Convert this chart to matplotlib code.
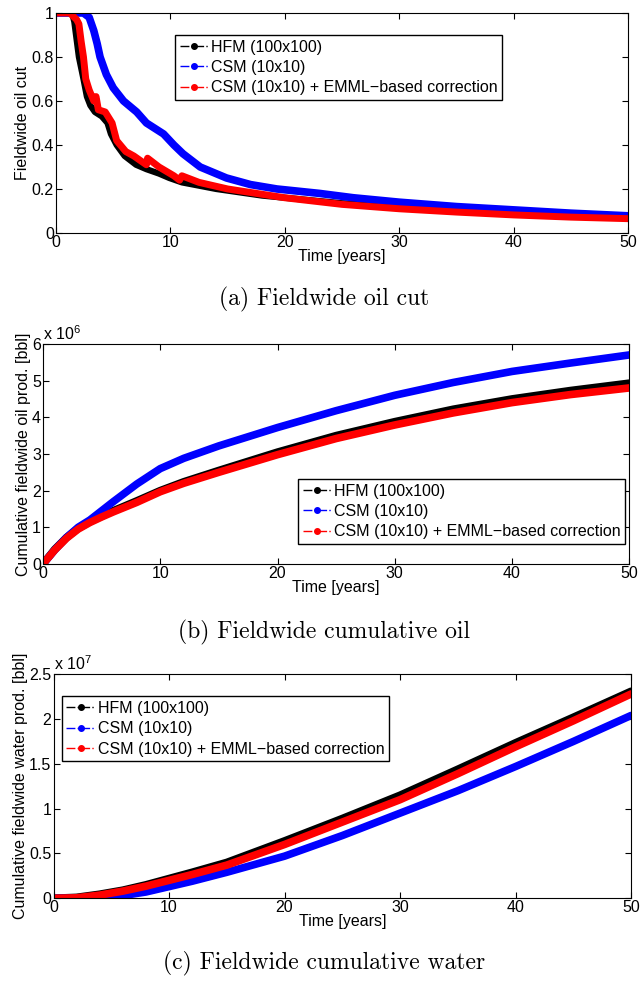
import matplotlib
matplotlib.use('Agg')
import matplotlib.pyplot as plt
from matplotlib.lines import Line2D
from matplotlib.ticker import FuncFormatter

plt.rcParams['font.family'] = ['Liberation Sans', 'DejaVu Sans']
plt.rcParams['mathtext.fontset'] = 'custom'
plt.rcParams['mathtext.rm'] = 'Liberation Sans'

labels = ['HFM (100x100)', 'CSM (10x10)', 'CSM (10x10) + EMML\u2212based correction']
colors = ['black', 'blue', 'red']

# (a) fieldwide oil cut
t_hfm_a = [0, 1.4, 1.6, 2.0, 2.4, 2.7, 3.0, 3.4, 4.0, 4.5, 4.8, 5.3, 6.0, 7.0, 7.9, 9.0, 9.9, 11.0, 12.0, 14.0,
           16.0, 18.0, 20.0, 25.0, 30.0, 35.0, 40.0, 45.0, 50.0]
oil_hfm_a = [1.0, 1.0, 0.96, 0.8, 0.7, 0.62, 0.58, 0.55, 0.53, 0.5, 0.45, 0.4, 0.35, 0.31, 0.29, 0.27, 0.25,
             0.23, 0.22, 0.2, 0.185, 0.17, 0.16, 0.135, 0.12, 0.105, 0.092, 0.08, 0.07]
t_csm_a = [0, 2.4, 2.9, 3.3, 3.6, 3.85, 4.4, 5.0, 5.9, 7.05, 7.9, 8.8, 9.4, 10.3, 11.1, 12.6, 14.9, 17.0,
           19.3, 23.0, 26.0, 30.0, 35.0, 40.0, 45.0, 50.0]
oil_csm_a = [1.0, 1.0, 0.98, 0.92, 0.86, 0.8, 0.72, 0.66, 0.6, 0.55, 0.5, 0.47, 0.45, 0.4, 0.36, 0.3, 0.25,
             0.22, 0.2, 0.18, 0.16, 0.14, 0.12, 0.105, 0.09, 0.078]
t_cor_a = [0, 1.2, 1.8, 2.0, 2.2, 2.4, 2.6, 2.9, 3.3, 3.5, 3.7, 4.3, 4.9, 5.3, 6.1, 6.8, 7.9, 8.0, 9.0, 10.3,
           10.8, 11.0, 12.5, 15.0, 20.0, 25.0, 30.0, 35.0, 40.0, 45.0, 50.0]
oil_cor_a = [1.0, 1.0, 0.97, 0.95, 0.87, 0.8, 0.7, 0.65, 0.6, 0.62, 0.56, 0.55, 0.5, 0.42, 0.37, 0.35, 0.31,
             0.34, 0.3, 0.26, 0.24, 0.26, 0.23, 0.2, 0.16, 0.13, 0.11, 0.095, 0.082, 0.072, 0.065]

# (b) cumulative oil [x 1e6 bbl]
t_b = [0, 1, 2, 3, 4, 5, 6, 8, 10, 12, 15, 20, 25, 30, 35, 40, 45, 50]
oil_hfm_b = [0, 0.4, 0.72, 0.97, 1.15, 1.3, 1.45, 1.72, 2.0, 2.24, 2.55, 3.05, 3.5, 3.88, 4.22, 4.5, 4.73, 4.93]
oil_csm_b = [0, 0.38, 0.72, 1.0, 1.2, 1.45, 1.7, 2.18, 2.6, 2.88, 3.22, 3.72, 4.18, 4.6, 4.95, 5.25, 5.48, 5.7]
oil_cor_b = [0, 0.38, 0.7, 0.95, 1.13, 1.28, 1.42, 1.68, 1.97, 2.2, 2.5, 2.98, 3.42, 3.79, 4.12, 4.4, 4.62, 4.8]

# (c) cumulative water [x 1e7 bbl]
t_c = [0, 2, 4, 6, 8, 10, 12, 15, 20, 25, 30, 35, 40, 45, 50]
wat_hfm_c = [0, 0.01, 0.045, 0.09, 0.15, 0.22, 0.29, 0.4, 0.64, 0.89, 1.15, 1.44, 1.735, 2.02, 2.31]
wat_csm_c = [0, 0, 0.005, 0.03, 0.07, 0.13, 0.19, 0.29, 0.47, 0.7, 0.95, 1.2, 1.47, 1.75, 2.04]
wat_cor_c = [0, 0.005, 0.035, 0.08, 0.135, 0.2, 0.265, 0.37, 0.6, 0.85, 1.1, 1.39, 1.69, 1.98, 2.28]

fig = plt.figure(figsize=(6.4, 9.83), dpi=100)
FS = 11.5

def style_axes(ax, ylim, yticks, ylabel):
    ax.set_xlim(0, 50)
    ax.set_ylim(*ylim)
    ax.set_xticks([0, 10, 20, 30, 40, 50])
    ax.set_yticks(yticks)
    ax.yaxis.set_major_formatter(FuncFormatter(lambda v, p: '%g' % v))
    ax.tick_params(direction='in', top=True, right=True, labelsize=FS, length=4, pad=1.5)
    ax.set_xlabel('Time [years]', fontsize=FS, labelpad=-1)
    ax.set_ylabel(ylabel, fontsize=FS, labelpad=1)

def add_legend(ax, loc, anchor):
    handles = [Line2D([0], [0], color=c, ls='-.', lw=1, marker='o', markersize=4) for c in colors]
    ax.legend(handles, labels, loc=loc, bbox_to_anchor=anchor, fontsize=FS, fancybox=False,
              edgecolor='black', handlelength=1.8, handletextpad=0.15, borderpad=0.3,
              labelspacing=0.33, borderaxespad=0, framealpha=1)

def caption(y, text):
    fig.text(0.507, y, text, ha='center', va='center', fontsize=17, family='cmr10')

# panel a
ax1 = fig.add_axes([0.0875, 0.763, 0.894, 0.2238])
for t, v, c, lw in [(t_hfm_a, oil_hfm_a, colors[0], 4.5), (t_csm_a, oil_csm_a, colors[1], 5.5),
                    (t_cor_a, oil_cor_a, colors[2], 5)]:
    ax1.plot(t, v, color=c, lw=lw, solid_joinstyle='round', solid_capstyle='round')
style_axes(ax1, (0, 1), [0, 0.2, 0.4, 0.6, 0.8, 1], 'Fieldwide oil cut')
add_legend(ax1, 'upper left', (0.208, 0.9))
caption(0.695, '(a) Fieldwide oil cut')

# panel b
ax2 = fig.add_axes([0.0672, 0.4263, 0.916, 0.2238])
for v, c in zip([oil_hfm_b, oil_csm_b, oil_cor_b], colors):
    ax2.plot(t_b, v, color=c, lw=5.5, solid_joinstyle='round', solid_capstyle='round')
style_axes(ax2, (0, 6), [0, 1, 2, 3, 4, 5, 6], 'Cumulative fieldwide oil prod. [bbl]')
ax2.text(0.0, 1.005, r'x 10$^{6}$', transform=ax2.transAxes, fontsize=FS, va='bottom', ha='left')
add_legend(ax2, 'lower right', (0.993, 0.091))
caption(0.357, '(b) Fieldwide cumulative oil')

# panel c
ax3 = fig.add_axes([0.0836, 0.0862, 0.9025, 0.2279])
for v, c in zip([wat_hfm_c, wat_csm_c, wat_cor_c], colors):
    ax3.plot(t_c, v, color=c, lw=5.5, solid_joinstyle='round', solid_capstyle='round')
style_axes(ax3, (0, 2.5), [0, 0.5, 1, 1.5, 2, 2.5], 'Cumulative fieldwide water prod. [bbl]')
ax3.text(0.0, 1.005, r'x 10$^{7}$', transform=ax3.transAxes, fontsize=FS, va='bottom', ha='left')
add_legend(ax3, 'upper left', (0.014, 0.902))
caption(0.02, '(c) Fieldwide cumulative water')

fig.savefig('out.png', dpi=100)
